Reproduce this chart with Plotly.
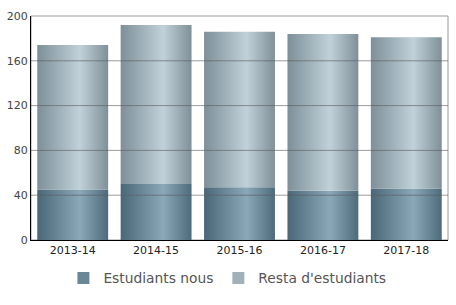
import plotly.graph_objects as go

categories = ["2013-14", "2014-15", "2015-16", "2016-17", "2017-18"]
nous = [45, 50, 47, 44, 46]
resta = [129, 142, 139, 140, 135]
y_ticks = [0, 40, 80, 120, 160, 200]

dark_scale = [[0, "#4a6778"], [0.6, "#8aa8b8"], [1, "#4e6b7b"]]
light_scale = [[0, "#7d8f98"], [0.6, "#c0d1d9"], [1, "#7f9099"]]
series = [("Estudiants nous", nous, dark_scale, "#6a8798"),
          ("Resta d'estudiants", resta, light_scale, "#a0b1b9")]

fig = go.Figure()
hw = 0.425
for i, cat in enumerate(categories):
    base = 0
    for name, vals, scale, _ in series:
        v = vals[i]
        fig.add_trace(go.Scatter(
            x=[i - hw, i + hw, i + hw, i - hw, i - hw],
            y=[base, base, base + v, base + v, base],
            mode="none", fill="toself",
            fillgradient=dict(type="horizontal", colorscale=scale),
            name=name, legendgroup=name, showlegend=False,
            hoverinfo="skip"))
        base += v

for name, _, _, col in series:
    fig.add_trace(go.Bar(x=[None], y=[None], name=name, legendgroup=name,
                         marker=dict(color=col, line=dict(width=0)), showlegend=True))

for t in y_ticks[1:-1]:
    fig.add_shape(type="line", xref="paper", x0=0, x1=1, y0=t, y1=t,
                  line=dict(color="rgba(90,90,90,0.6)", width=1), layer="above")
fig.add_shape(type="rect", xref="paper", yref="paper", x0=0, x1=1, y0=0, y1=1,
              line=dict(color="#999999", width=1), layer="below")

fig.update_layout(
    width=456, height=305,
    margin=dict(l=31, r=8, t=16, b=65, autoexpand=False),
    plot_bgcolor="white", paper_bgcolor="white",
    font=dict(family="DejaVu Sans", size=11, color="#444444"),
    showlegend=True,
    legend=dict(orientation="h", x=0.471, xanchor="center", y=-0.17, yanchor="middle",
                font=dict(size=13.8, color="#555555"), itemwidth=30,
                traceorder="normal"),
    xaxis=dict(range=[-0.5, len(categories) - 0.5], tickvals=list(range(len(categories))),
               ticktext=categories, showgrid=False, zeroline=False,
               showline=True, linecolor="black", linewidth=1,
               tickfont=dict(color="#222222", size=11), ticks="", fixedrange=True),
    yaxis=dict(range=[0, 200], tickvals=y_ticks, showgrid=False, zeroline=False,
               showline=True, linecolor="black", linewidth=1, ticks="",
               tickfont=dict(color="#444444", size=11), fixedrange=True),
)

fig.write_html("out.html")
